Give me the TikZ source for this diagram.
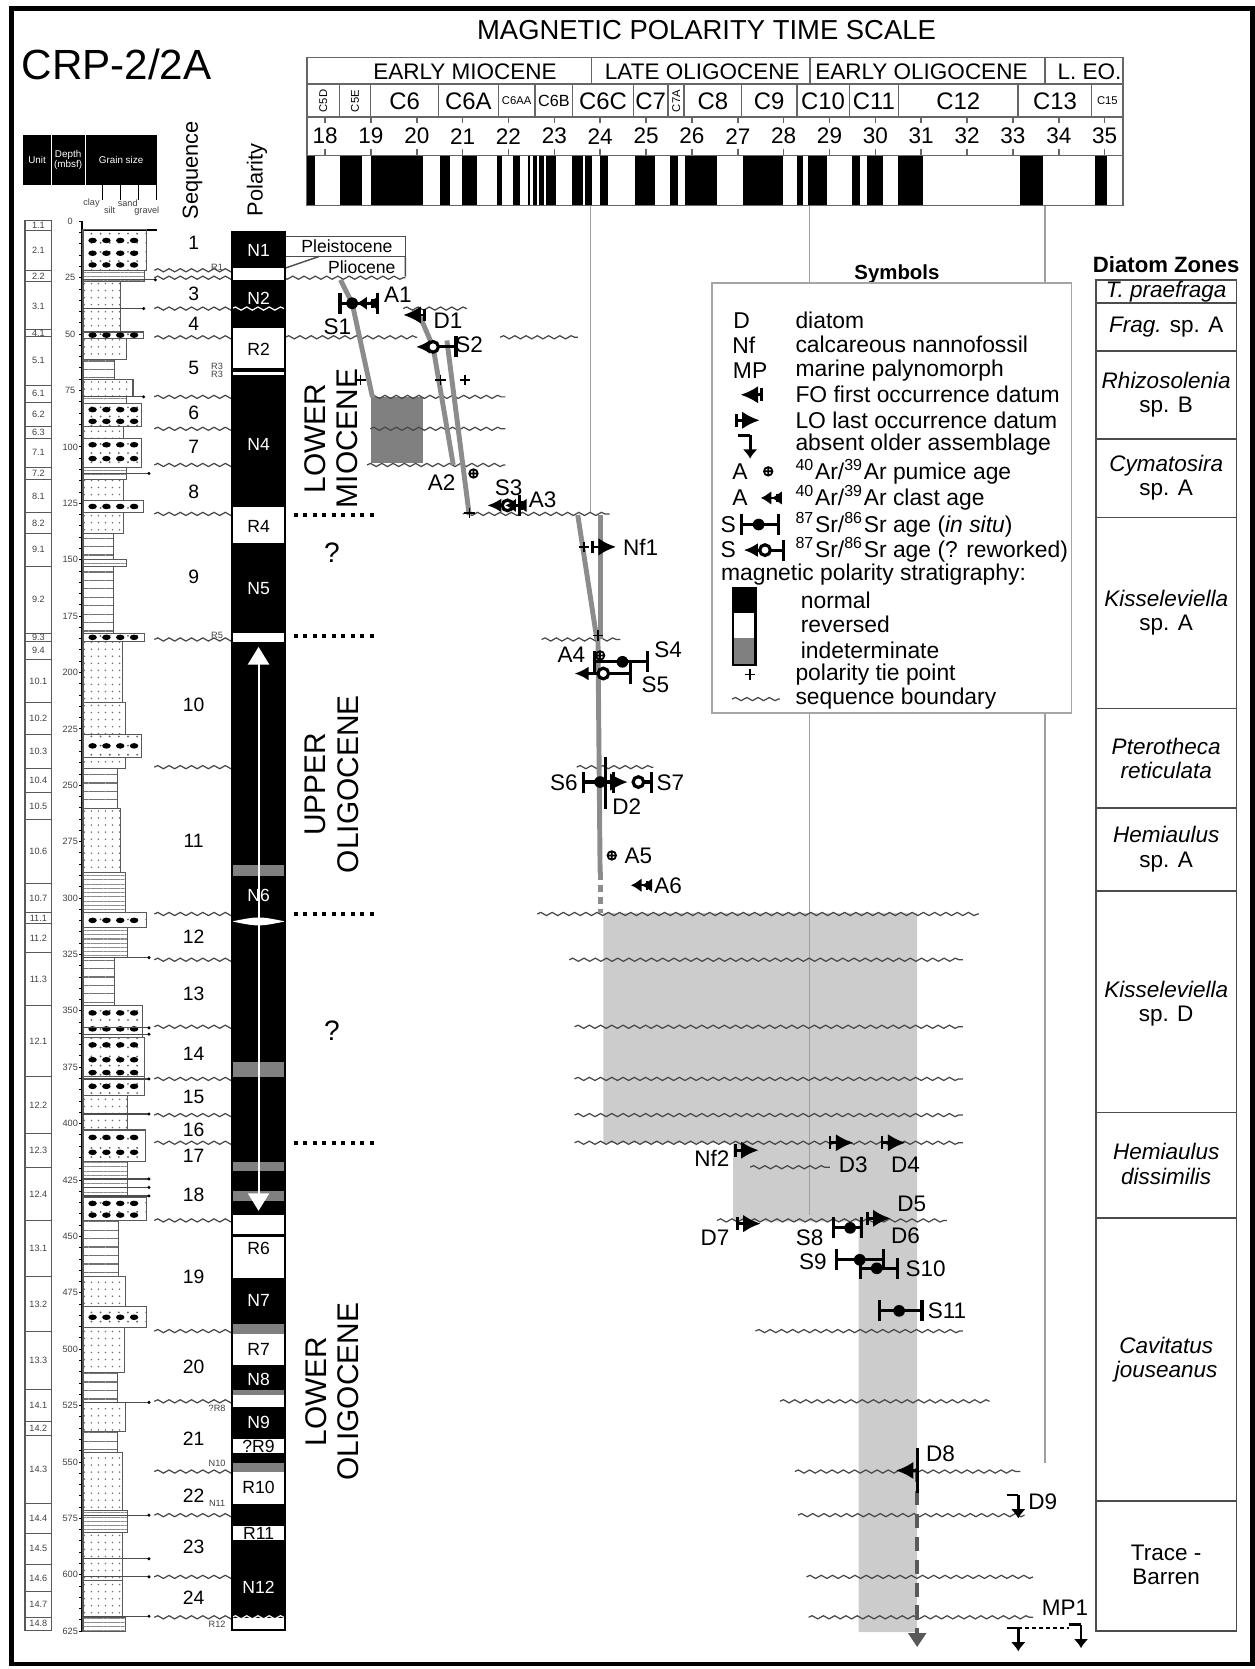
\documentclass[tikz,border=0pt]{standalone}
\usepackage{fontspec}
\setmainfont{Liberation Sans}
\usetikzlibrary{arrows.meta,decorations.pathmorphing,patterns.meta}

\newcommand{\fsz}[1]{\fontsize{#1}{#1}\selectfont}

\definecolor{corrgray}{gray}{0.55}
\definecolor{indetgray}{gray}{0.5}
\definecolor{shadegray}{gray}{0.8}
\definecolor{linegray}{gray}{0.62}

% Sr ages: x, y, left end, right end
\newcommand{\srsitu}[4]{%
  \draw[errbar] (#3,#2) -- (#4,#2);
  \fill (#1,#2) circle (5.5);}
\newcommand{\srwork}[4]{%
  \draw[line width=0.9pt,-{Latex[length=4pt,width=4pt]}] (#1,#2) -- (#3,#2);
  \draw[line width=0.9pt,-{Bar[width=6pt]}] (#1,#2) -- (#4,#2);
  \draw[line width=0.9pt,fill=white] (#1,#2) circle (5);}

\begin{document}
\begin{tikzpicture}[
  x=0.01064cm, y=-0.01064cm,
  lbl/.style={font=\fsz{6.4}, inner sep=0pt},
  leg/.style={font=\fsz{6.5}, inner sep=0pt, anchor=west},
  tiny/.style={font=\fsz{2.6}, inner sep=0pt, text=black!75},
  seqno/.style={font=\fsz{5.5}, inner sep=0pt},
  pol/.style={font=\fsz{5}, inner sep=0pt},
  epoch/.style={font=\fsz{6.4}, inner sep=0pt},
  chron/.style={font=\fsz{6.8}, inner sep=0pt},
  chronsm/.style={font=\fsz{3.2}, inner sep=0pt},
  mpts/.style={draw=black!60, line width=0.45pt},
  seqb/.style={decorate, decoration={snake, amplitude=0.45pt, segment length=3.2pt}, line width=0.35pt, draw=black!72},
  corr/.style={line width=1.4pt, draw=corrgray},
  dotb/.style={line width=1.2pt, dash pattern=on 1.2pt off 1.5pt},
  errbar/.style={line width=0.9pt, {Bar[width=6pt]}-{Bar[width=6pt]}},
  zone/.style={font=\fontsize{6.4}{6.9}\selectfont, align=center, inner sep=0pt},
  rotlab/.style={font=\fontsize{8.5}{9.2}\selectfont, rotate=90, align=center, inner sep=0pt},
  lithbox/.style={draw=black!65, line width=0.3pt},
  ldiam/.style={lithbox, pattern={Dots[distance=2.6pt,radius=0.3pt]}, pattern color=black!60},
  lsand/.style={lithbox, pattern={Dots[distance=2pt,radius=0.25pt]}, pattern color=black!55},
  lmud/.style={lithbox, pattern={Lines[angle=0,distance=2.4pt,line width=0.35pt]}, pattern color=black!55},
  lmix/.style={lithbox, pattern={Lines[angle=0,distance=1.2pt,line width=0.3pt]}, pattern color=black!45},
  fodatum/.pic={\draw[line width=0.8pt,-{Latex[length=5pt,width=5pt]}] (0,0) -- (-20,0);
                \draw[line width=0.8pt] (0,-6) -- (0,6);},
  lodatum/.pic={\draw[line width=0.8pt,-{Latex[length=5pt,width=5pt]}] (0,0) -- (22,0);
                \draw[line width=0.8pt] (0,-6) -- (0,6);},
  clast/.pic={\draw[line width=0.7pt,-{Latex[length=3pt,width=4pt] Latex[length=3pt,width=4pt]}] (0,0) -- (-15,0);
              \draw[line width=0.7pt] (0,-4) -- (0,4);},
  pumice/.pic={\draw[line width=0.5pt] (0,0) circle (4) (-4,0) -- (4,0) (0,-4) -- (0,4);},
  absent/.pic={\draw[line width=0.8pt] (-11,0) -- (0,0);
               \draw[line width=0.8pt,-{Latex[length=2.6pt,width=4.2pt]}] (0,0) -- (0,22);},
  tiept/.pic={\draw[line width=0.4pt] (-5,0) -- (5,0) (0,-5) -- (0,5);}
]
\useasboundingbox (0,0) rectangle (1179.5,1568.6);
\draw[line width=1.3pt] (11,8) rectangle (1177,1564);

\draw (109.5,61) node [font=\fsz{12}, inner sep=0pt] (crp) {CRP-2/2A};
\draw (664,28) node [font=\fsz{7.8}, inner sep=0pt] (mptstitle) {MAGNETIC POLARITY TIME SCALE};

% age model ranges
\fill[shadegray] (567,858) -- (862,858) -- (862,1534) -- (807,1534) -- (807,1148)
  -- (689,1148) -- (689,1074) -- (567,1074) -- cycle;
\fill[indetgray] (349,373) rectangle (398,435.5);

\draw[linegray, line width=0.4pt] (555,193) -- (555,482);
\draw[linegray, line width=0.4pt] (761,193) -- (761,1142);
\draw[linegray, line width=0.4pt] (982,193) -- (982,1375);

% sequence boundaries
\foreach \y in {254,290,317,373,403,437,483,601,721,859,902,965,1014,1048,1074,1147,1251,1317,1383,1424,1482,1520}
  \draw[seqb] (145,\y) -- (268,\y);
\draw[seqb] (145,261) -- (381,261);
\foreach \y/\xa/\xb in {290/379/439, 317/268/392, 317/470/543, 373/348/475, 403/348/475, 437/345/475,
    483/435/573, 601/509/583, 721/542/614, 859/505/920, 902/535/905, 965/540/905, 1014/540/905,
    1048/540/905, 1074/540/905, 1097/705/780, 1147/674/890, 1251/710/905, 1317/733/930,
    1383/747/959, 1424/750/963, 1482/758/971, 1520/760/971}
  \draw[seqb] (\xa,\y) -- (\xb,\y);

\foreach \y in {484,598,859,1074}
  \draw[dotb] (276,\y) -- (356,\y);

% correlation lines
\draw[corr] (320,263) -- (331,285) -- (350,373);
\draw[corr] (395,298) -- (407,326) -- (426,437);
\draw[corr] (420,320) -- (441,484);
\draw[corr] (543,484) -- (561,601);
\draw[corr] (564,484) -- (564,601);
\draw[corr] (562,601) -- (564,820);
\draw[corr, dash pattern=on 2pt off 1.5pt] (564,820) -- (564,858);
\draw[black!65, line width=1.2pt, dash pattern=on 4pt off 2.5pt, -{Triangle[width=5pt,length=4pt]}] (862,1380) -- (862,1548);

% datums and ages
\pic at (339,357) {tiept};
\pic at (414,357) {tiept};
\pic at (437,357) {tiept};
\pic at (441,482) {tiept};
\pic at (549,514) {tiept};
\pic at (562,597) {tiept};

\srsitu{331}{285}{318}{356}
\pic at (350,285) {clast};
\draw (317,307) node [lbl] (s1) {S1};
\draw (374,277) node [lbl] (a1) {A1};
\pic at (399,296) {fodatum};
\draw (421,301) node [lbl] (d1) {D1};
\srwork{407}{326}{391}{430}
\draw (441,324) node [lbl] (s2) {S2};
\pic at (445,445) {pumice};
\draw (415,454) node [lbl] (a2) {A2};
\srwork{477}{475}{458}{490}
\pic at (490,475) {clast};
\draw (478,458) node [lbl] (s3) {S3};
\draw (510,470) node [lbl] (a3) {A3};
\pic at (557,514) {lodatum};
\draw (602,514) node [lbl] (nf1) {Nf1};
\pic at (564,616) {pumice};
\draw (537,615) node [lbl] (a4) {A4};
\srsitu{585}{622}{557}{610}
\draw (628,611) node [lbl] (s4) {S4};
\srwork{567}{633}{540}{594}
\draw (616,644) node [lbl] (s5) {S5};
\srsitu{564}{735}{547}{578}
\draw (530,736) node [lbl] (s6) {S6};
\draw[line width=0.8pt] (569,711) -- (569,760);
\draw[line width=0.8pt,-{Latex[length=5pt,width=5pt]}] (569,735) -- (590,735);
\draw[line width=0.9pt,-{Bar[width=6pt]}] (600,735) -- (614,735);
\draw[line width=0.9pt,fill=white] (600,735) circle (5);
\draw (589,758) node [lbl] (d2) {D2};
\draw (630,736) node [lbl] (s7) {S7};
\pic at (575,804) {pumice};
\draw (600,804) node [lbl] (a5) {A5};
\pic at (608,832) {clast};
\draw (628,832) node [lbl] (a6) {A6};

\pic at (691,1081) {lodatum};
\draw (669,1089) node [lbl] (nf2) {Nf2};
\pic at (780,1074) {lodatum};
\draw (802,1095) node [lbl] (d3) {D3};
\pic at (829,1074) {lodatum};
\draw (851,1095) node [lbl] (d4) {D4};
\pic at (693,1150) {lodatum};
\draw (672,1163) node [lbl] (d7) {D7};
\srsitu{799}{1154}{782}{811}
\draw (761,1163) node [lbl] (s8) {S8};
\pic at (815,1145) {lodatum};
\draw[line width=0.8pt] (822,1139) -- (822,1151);
\draw (857,1131) node [lbl] (d5) {D5};
\draw (851,1161) node [lbl] (d6) {D6};
\srsitu{808}{1184}{785}{832}
\draw (764,1186) node [lbl] (s9) {S9};
\srsitu{824}{1192}{807}{845}
\draw (870,1192) node [lbl] (s10) {S10};
\srsitu{845}{1232}{825}{868}
\draw (890,1232) node [lbl] (s11) {S11};
\draw[line width=0.8pt] (862,1361) -- (862,1403);
\pic at (862,1382) {fodatum};
\draw (884,1366) node [lbl] (d8) {D8};
\pic at (957,1405) {absent};
\draw (980,1411) node [lbl] (d9) {D9};
\pic at (957,1530) {absent};
\pic at (1016,1527) {absent};
\draw[line width=0.8pt, dash pattern=on 1pt off 1pt] (957,1530) -- (1005,1530);
\draw (1001,1511) node [lbl] (mp1) {MP1};

% epochs
\draw (311,412) node [rotlab] (lmio) {LOWER\\MIOCENE};
\draw (312,737) node [rotlab] (uoli) {UPPER\\OLIGOCENE};
\draw (312,1308) node [rotlab] (loli) {LOWER\\OLIGOCENE};
\draw (312,519) node [font=\fsz{8}, inner sep=0pt] (q1) {?};
\draw (312,969) node [font=\fsz{8}, inner sep=0pt] (q2) {?};

% Pleistocene / Pliocene
\draw[black!70, line width=0.4pt] (268,222) rectangle (381,241);
\draw[black!70, line width=0.4pt] (381,241) -- (381,260) (268,252) -- (300,241);
\draw (326,231) node [font=\fsz{5}, inner sep=0pt] (pleist) {Pleistocene};
\draw (340,251) node [font=\fsz{5}, inner sep=0pt] (plio) {Pliocene};

% polarity column
\fill[white] (218,218) rectangle (268,1532);
\foreach \t/\b in {218/252, 263/308, 346/350, 352.5/476.5, 510/595, 603/1142, 1160/1163,
    1201/1244.6, 1283.3/1306, 1322/1352, 1365.6/1374.7, 1413.4/1433.9, 1447.6/1520.5}
  \fill (218,\t) rectangle (268,\b);
\foreach \t/\b in {813/823, 998.5/1012.4, 1092/1101, 1119.3/1128.5, 1244.6/1253.7, 1306/1310.7, 1374.7/1383.8}
  \fill[indetgray] (218,\t) rectangle (268,\b);
\fill[white] (218,866) .. controls (243,861) .. (268,866) .. controls (243,871) .. (218,866);
\draw[white, line width=0.6pt, {Triangle[width=6pt,length=5pt]}-{Triangle[width=6pt,length=5pt]}] (243,608) -- (243,1138);
\foreach \y in {254,261,290,1147,1520}
  \draw[seqb, draw=white] (218,\y) -- (268,\y);
\draw[line width=0.5pt] (218,218) rectangle (268,1532);
\foreach \y/\n in {235/N1, 280/N2, 418/N4, 553/N5, 842/N6, 1222/N7, 1296/N8, 1337/N9, 1492/N12}
  \draw (243,\y) node [pol, text=white] {\n};
\foreach \y/\n in {328/R2, 495/R4, 1173/R6, 1268/R7, 1359/?R9, 1398/R10, 1441/R11}
  \draw (243,\y) node [pol] {\n};
\foreach \y/\n in {251/R1, 344/R3, 352/R3, 597/R5, 1324/?R8, 1375/N10, 1413/N11, 1527/R12}
  \draw (204,\y) node [tiny] {\n};

% sequence numbers
\draw (181,160) node [font=\fsz{6.2}, rotate=90, inner sep=0pt] (seqhead) {Sequence};
\draw (241.5,169) node [font=\fsz{6.2}, rotate=90, inner sep=0pt] (polhead) {Polarity};
\foreach \y/\n in {228/1, 276/3, 304/4, 346/5, 388/6, 420/7, 462/8, 542/9, 662/10, 790/11, 880/12,
    934/13, 990/14, 1031/15, 1062/16, 1086/17, 1123/18, 1200/19, 1285/20, 1352/21, 1406/22, 1454/23, 1502/24}
  \draw (182,\y) node [seqno] {\n};

% core log header
\fill (21.6,127) rectangle (147.6,174);
\draw[white, line width=0.3pt] (48,127) -- (48,174) (80,127) -- (80,174);
\draw (34.8,150) node [font=\fsz{2.8}, text=white, inner sep=0pt] {Unit};
\draw (64,150) node [font=\fsz{2.8}, text=white, inner sep=0pt, align=center] {Depth\\(mbsf)};
\draw (113.8,150) node [font=\fsz{2.8}, text=white, inner sep=0pt] {Grain size};
\foreach \gx in {96,113,130,147.5}
  \draw[line width=0.3pt] (\gx,174) -- (\gx,188);
\draw (86,191) node [tiny] {clay};
\draw (103,198) node [tiny] {silt};
\draw (120,191) node [tiny] {sand};
\draw (138,198) node [tiny] {gravel};

% units
\foreach \t/\b/\u in {207/217/1.1, 217/254/2.1, 254/265/2.2, 265/310/3.1, 310/316/4.1, 316/362/5.1,
    362/378/6.1, 378/401/6.2, 401/412/6.3, 412/439/7.1, 439/451/7.2, 451/482/8.1, 482/501/8.2,
    501/532/9.1, 532/595/9.2, 595/603/9.3, 603/620/9.4, 620/660/10.1, 660/690/10.2, 690/722/10.3,
    722/745/10.4, 745/770/10.5, 770/830/10.6, 830/858/10.7, 858/868/11.1, 868/895/11.2, 895/945/11.3,
    945/1012/12.1, 1012/1065/12.2, 1065/1097/12.3, 1097/1147/12.4, 1147/1200/13.1, 1200/1251/13.2,
    1251/1306/13.3, 1306/1336/14.1, 1336/1349/14.2, 1349/1413/14.3, 1413/1441/14.4, 1441/1470/14.5,
    1470/1496/14.6, 1496/1520/14.7, 1520/1532/14.8}
  \draw[black!65, line width=0.3pt] (23.5,\t) rectangle (48.6,\b) node [tiny, midway] {\u};

% depth scale
\draw[line width=0.35pt] (77,208) -- (77,1533);
\foreach \d in {0,5,...,625}
  \draw[line width=0.25pt] (74.5,{208+\d*2.12}) -- (77,{208+\d*2.12});
\foreach \d in {0,25,...,625}
  \draw (66,{208+\d*2.12}) node [tiny] {\d};

% lithology
\draw[line width=0.4pt] (77,216) -- (147.5,216);
\foreach \t/\b/\r/\k in {216/254/138/ldiam, 254/265/136/lmix, 265/290/113/lsand, 290/312/113/lsand,
    312/318/135/ldiam, 318/338/119/lsand, 338/357/108/lmud, 357/373/125/lsand, 373/379/119/lmix,
    379/401/133/ldiam, 401/412/116/lsand, 412/439/133/ldiam, 439/451/119/lmix, 451/470/116/lsand,
    470/482/135/ldiam, 482/501/116/lsand, 501/526/107/lmud, 526/532/119/lmix, 532/595/107/lmud,
    595/603/136/ldiam, 603/660/115/lsand, 660/690/118/lsand, 690/712/133/ldiam, 712/722/118/lsand,
    722/760/110/lmud, 760/820/113/lsand, 820/858/118/lmix, 858/872/138/ldiam, 872/900/120/lmix,
    900/945/108/lmud, 945/975/134/ldiam, 975/1012/136/ldiam, 1012/1030/136/ldiam, 1030/1062/120/lsand,
    1062/1092/137/ldiam, 1092/1125/120/lmix, 1125/1147/138/ldiam, 1147/1200/111/lmud, 1200/1228/118/lsand,
    1228/1248/138/ldiam, 1248/1290/117/lsand, 1290/1318/110/lmud, 1318/1345/118/lsand, 1345/1365/110/lmud,
    1365/1420/115/lsand, 1420/1440/120/lmix, 1440/1485/115/lsand, 1485/1520/115/lsand, 1520/1533/118/lmix}
  \draw[\k] (78,\t) rectangle (\r,\b);
\foreach \cy in {226,238,249,315,385,396,418,431,476,599,701,865,952,967,982,996,1008,1021,1069,1083,1131,1142,1238}
  \foreach \cx in {87,100,113,126}
    \fill (\cx,\cy) ellipse (4 and 2.6);
\foreach \y/\r in {263/146, 290/135, 373/135, 445/140, 900/140, 966/140, 972/140, 1014/140, 1047/140,
    1108/140, 1116/140, 1124/140, 1318/140, 1424/140, 1465/140, 1482/140, 1519/140}
  {\draw[black!70, line width=0.35pt] (78,\y) -- (\r,\y); \fill (\r,\y) circle (1.6);}

% time scale
\draw[mpts] (288.5,54) rectangle (1055.5,193);
\draw[mpts] (288.5,79) -- (1055.5,79) (288.5,110) -- (1055.5,110) (288.5,146) -- (1055.5,146);
\foreach \xe in {556,761,982}
  \draw[mpts] (\xe,54) -- (\xe,79);
\draw (437,67) node [epoch] (emio) {EARLY MIOCENE};
\draw (660,67) node [epoch] (loli) {LATE OLIGOCENE};
\draw (866,67) node [epoch] (eoli) {EARLY OLIGOCENE};
\draw (1024,67) node [epoch] (leo) {L. EO.};
\foreach \xc in {319,348.4,412,468.4,502.8,538.2,595.2,628,643,697,748.8,798.2,844.3,957,1026}
  \draw[mpts] (\xc,79) -- (\xc,110);
\foreach \xc/\c in {380.2/C6, 440.2/C6A, 566.7/C6C, 611.6/C7, 670/C8, 722.9/C9, 773.5/C10,
    821.25/C11, 900.65/C12, 991.5/C13}
  \draw (\xc,95) node [chron] {\c};
\foreach \xc/\c in {303.7/C5D, 333.7/C5E, 635.5/C7A}
  \draw (\xc,95) node [chronsm, rotate=90] {\c};
\draw (485.6,95) node [chronsm] {C6AA};
\draw (520.5,95) node [font=\fsz{4.6}, inner sep=0pt] {C6B};
\draw (1040.75,95) node [chronsm] {C15};
\foreach \a [evaluate=\a as \xa using {305.5+(\a-18)*43.1}] in {18,...,35}
  {\draw[mpts] (\xa,110) -- (\xa,115.5) (\xa,140) -- (\xa,146);
   \draw (\xa,128) node [epoch] {\a};}
\foreach \xa/\xb in {288.5/296, 320/340, 348.4/397.8, 413.5/423, 434/448, 466.8/471.5, 482/488.7,
    496/498, 501/505, 507/511, 513/523, 537.3/548.2, 550/556, 564/571.7, 596.8/615.6, 629.7/637.5,
    643.8/673.6, 698.6/736.2, 748.8/755, 759.7/777, 800.5/808.3, 814.6/830.2, 844.3/867.8,
    958.6/980.5, 1029/1040}
  \fill (\xa,147) rectangle (\xb,193);

% symbols
\draw (843,258) node [font=\fsz{5.8}\bfseries, inner sep=0pt] (symhead) {Symbols};
\draw[black!35, line width=0.4pt, fill=white] (669,266) rectangle (1007,670);
\draw (697,301) node [leg, anchor=center] {D};
\draw (747,301) node [leg] {diatom};
\draw (699,324) node [leg, anchor=center] {Nf};
\draw (747,324) node [leg] {calcareous nannofossil};
\draw (705,348) node [leg, anchor=center] {MP};
\draw (747,348) node [leg] {marine palynomorph};
\pic at (716,371) {fodatum};
\draw (747,371) node [leg] {FO first occurrence datum};
\pic at (692,395) {lodatum};
\draw (747,395) node [leg] {LO last occurrence datum};
\pic at (705,409) {absent};
\draw (747,418) node [leg] {absent older assemblage};
\draw (695.5,443) node [leg, anchor=center] {A};
\pic at (722,443) {pumice};
\draw (747,443) node [leg] {\textsuperscript{40}Ar/\textsuperscript{39}Ar pumice age};
\draw (695.5,468) node [leg, anchor=center] {A};
\pic at (730,468) {clast};
\draw (747,468) node [leg] {\textsuperscript{40}Ar/\textsuperscript{39}Ar clast age};
\draw (684.5,493) node [leg, anchor=center] {S};
\srsitu{713}{493}{695.5}{733}
\draw (747,493) node [leg] {\textsuperscript{87}Sr/\textsuperscript{86}Sr age (\textit{in situ})};
\draw (684.5,517) node [leg, anchor=center] {S};
\srwork{719}{517}{699}{738}
\draw (747,517) node [leg] {\textsuperscript{87}Sr/\textsuperscript{86}Sr age (? reworked)};
\draw (677,540) node [leg] {magnetic polarity stratigraphy:};
\fill (689,553) rectangle (710,576);
\fill[indetgray] (689,600) rectangle (710,625);
\draw[line width=0.6pt] (689,553) rectangle (710,625);
\draw (752,564) node [leg] {normal};
\draw (752,587) node [leg] {reversed};
\draw (752,611) node [leg] {indeterminate};
\pic at (705,634) {tiept};
\draw (747,634) node [leg] {polarity tie point};
\draw[seqb] (688,657) -- (733,657);
\draw (747,657) node [leg] {sequence boundary};

% diatom zones
\draw (1096,249) node [font=\fsz{6.3}\bfseries, inner sep=0pt] (dzhead) {Diatom Zones};
\draw[black!70, line width=0.45pt] (1030,263) rectangle (1162,1533);
\foreach \y in {284.7,330,412.6,486.4,666,759.5,837.5,1045.7,1144.6,1410.6}
  \draw[black!70, line width=0.45pt] (1030,\y) -- (1162,\y);
\draw (1096,274) node [zone] {\textit{T. praefraga}};
\draw (1096,307) node [zone] {\textit{Frag.} sp. A};
\draw (1096,371) node [zone] {\textit{Rhizosolenia}\\sp. B};
\draw (1096,449) node [zone] {\textit{Cymatosira}\\sp. A};
\draw (1096,576) node [zone] {\textit{Kisseleviella}\\sp. A};
\draw (1096,713) node [zone] {\textit{Pterotheca}\\\textit{reticulata}};
\draw (1096,798) node [zone] {\textit{Hemiaulus}\\sp. A};
\draw (1096,943) node [zone] {\textit{Kisseleviella}\\sp. D};
\draw (1096,1094) node [zone] {\textit{Hemiaulus}\\\textit{dissimilis}};
\draw (1096,1278) node [zone] {\textit{Cavitatus}\\\textit{jouseanus}};
\draw (1096,1471) node [zone] {Trace -\\Barren};
\end{tikzpicture}
\end{document}
